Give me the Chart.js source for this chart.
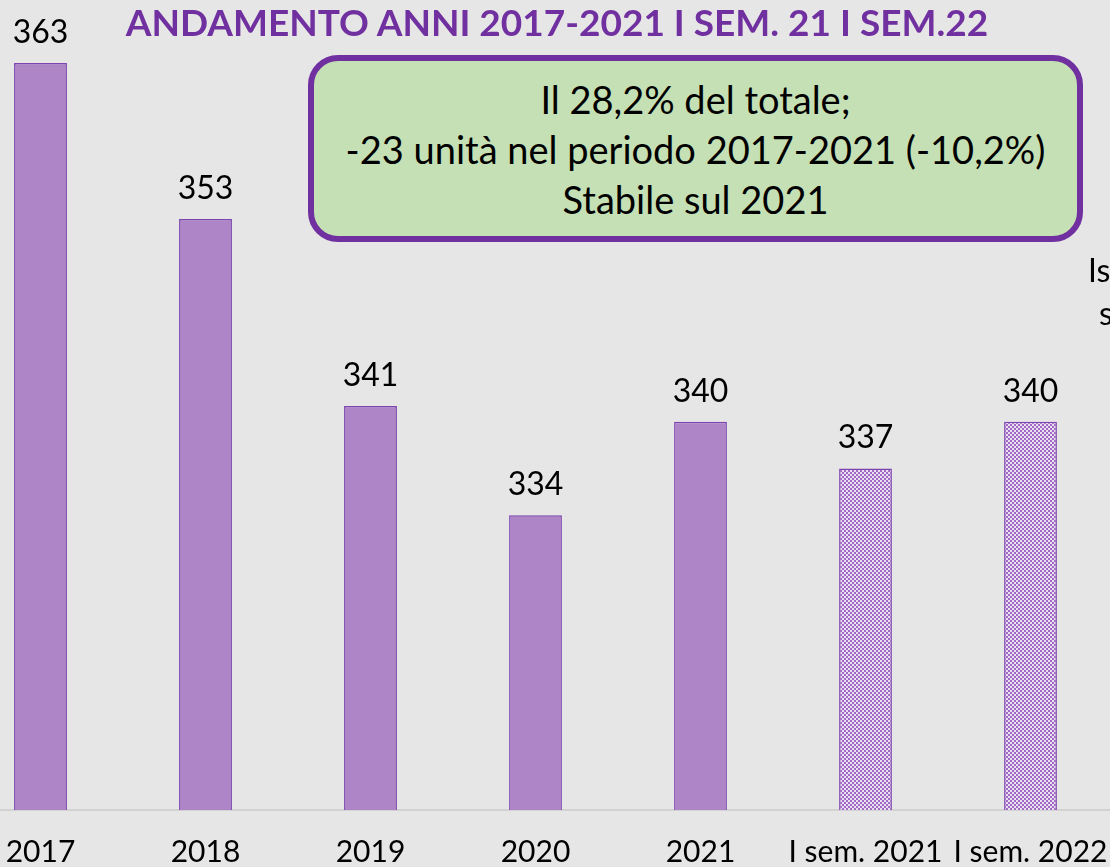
<!DOCTYPE html>
<html>
<head>
<meta charset="utf-8">
<script src="https://cdn.jsdelivr.net/npm/chart.js@4.4.0/dist/chart.umd.min.js"></script>
<style>
  html, body { margin: 0; padding: 0; }
  body { width: 1110px; height: 867px; overflow: hidden; background: #e6e6e6; position: relative; font-family: Lato, sans-serif; }
  #wrap { position: absolute; left: -42px; top: 0; width: 1155px; height: 867px; }
  .titolo { position: absolute; left: 0; width: 1110px; top: 3px; text-align: center; padding-left: 2px;
            font-weight: bold; font-size: 37px; line-height: 37px; color: #7030a0; white-space: nowrap; }
  .box { position: absolute; left: 308px; top: 55px; width: 763px; height: 175px; border: 6px solid #7030a0;
         border-radius: 30px; background: #c5e0b4; display: flex; align-items: center; justify-content: center;
         text-align: center; font-size: 38px; line-height: 50px; color: #000; }
  .taglio { position: absolute; font-size: 32px; color: #000; white-space: nowrap; }
</style>
</head>
<body>
<div id="wrap"><canvas id="barChart" width="1155" height="867"></canvas></div>
<div class="titolo">ANDAMENTO ANNI 2017-2021 I SEM. 21 I SEM.22</div>
<div class="box"><div>Il 28,2% del totale;<br>-23 unità nel periodo 2017-2021 (-10,2%)<br>Stabile sul 2021</div></div>
<div class="taglio" style="left:1088px; top:250px;">Is ole</div>
<div class="taglio" style="left:1099px; top:293px;">s u</div>

<script>
// dati
var labels = ['2017', '2018', '2019', '2020', '2021', 'I sem. 2021', 'I sem. 2022'];
var valori = [363, 353, 341, 334, 340, 337, 340];
var semestre = [false, false, false, false, false, true, true]; // barre a trama

// trama a scacchi per i semestri
function trama() {
  var c = document.createElement('canvas');
  c.width = 4;
  c.height = 4;
  var g = c.getContext('2d');
  g.fillStyle = '#eadff1';
  g.fillRect(0, 0, 4, 4);
  g.fillStyle = '#a06ac6';
  g.fillRect(0, 0, 2, 2);
  g.fillRect(2, 2, 2, 2);
  return g.createPattern(c, 'repeat');
}

var pattern = trama();
var colori = [];
for (var i = 0; i < valori.length; i++) {
  colori.push(semestre[i] ? pattern : '#ae85c6');
}

// etichette sopra le barre
const etichette = {
  id: 'etichette',
  afterDatasetsDraw(chart) {
    const ctx = chart.ctx;
    const meta = chart.getDatasetMeta(0);
    ctx.save();
    ctx.font = '32px Lato';
    ctx.fillStyle = '#000';
    ctx.textAlign = 'center';
    ctx.textBaseline = 'alphabetic';
    meta.data.forEach(function (bar, i) {
      ctx.fillText(valori[i], bar.x, bar.y - 20);
    });
    ctx.restore();
  }
};

const bar = document.getElementById('barChart');

new Chart(bar, {
  type: 'bar',
  data: {
    labels: labels,
    datasets: [{
      data: valori,
      backgroundColor: colori,
      borderColor: '#7e45b0',
      borderWidth: 1.5,
      barPercentage: 0.4,
      categoryPercentage: 0.8
    }]
  },
  options: {
    responsive: false,
    animation: false,
    devicePixelRatio: 1,
    layout: { padding: 0 },
    plugins: {
      legend: { display: false },
      tooltip: { enabled: false }
    },
    scales: {
      x: {
        grid: { display: false, drawTicks: false },
        border: { display: true, color: '#d2d2d2', width: 2 },
        ticks: { color: '#000', font: { family: 'Lato', size: 30 }, padding: 24, maxRotation: 0, autoSkip: false },
        afterFit: function (scale) {
          scale.height = 57;
          scale.paddingLeft = 0;
          scale.paddingRight = 0;
        }
      },
      y: {
        display: false,
        min: 315.1,
        max: 367.04
      }
    }
  },
  plugins: [etichette]
});
</script>
</body>
</html>
